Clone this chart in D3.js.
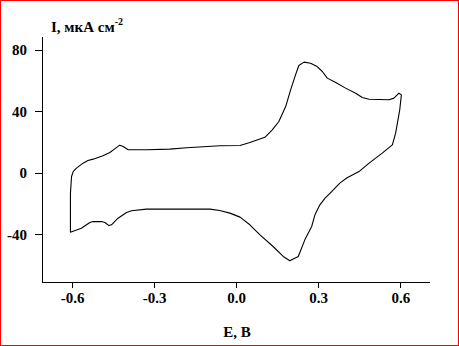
<!DOCTYPE html>
<html>
<head>
<meta charset="utf-8">
<script src="https://cdn.jsdelivr.net/npm/d3@7"></script>
<style>
  body { margin: 0; background: #fff; }
  svg { display: block; }
  text { font-family: "Liberation Serif", "Times New Roman", serif; font-weight: bold; fill: #000; }
</style>
</head>
<body>
<div id="chart"></div>
<script>
var w = 459,
    h = 346;

// cyclic voltammogram, traced clockwise starting at -0.6 V on the anodic sweep
var potential = [
  -0.596, -0.584, -0.560, -0.542, -0.523, -0.487, -0.462, -0.444, -0.426, -0.413,
  -0.395, -0.328, -0.243, -0.181, -0.060, 0.014, 0.050, 0.105, 0.132, 0.156,
  0.181, 0.199, 0.217, 0.229, 0.248, 0.272, 0.296, 0.315, 0.333, 0.364,
  0.400, 0.437, 0.461, 0.486, 0.559, 0.577, 0.595, 0.604, 0.598, 0.583,
  0.571, 0.534, 0.486, 0.449, 0.404, 0.379, 0.349, 0.325, 0.306, 0.288,
  0.276, 0.251, 0.227, 0.196, 0.172, 0.135, 0.087, 0.050, 0.014, -0.023,
  -0.060, -0.096, -0.206, -0.328, -0.383, -0.401, -0.432, -0.456, -0.465, -0.480,
  -0.492, -0.523, -0.535, -0.566, -0.606, -0.606, -0.602, -0.596
];
var current = [
  0.8, 3.1, 6.3, 8.0, 8.9, 11.1, 13.2, 15.6, 18.0, 17.1,
  15.0, 15.0, 15.4, 16.3, 17.6, 17.8, 19.7, 23.1, 28.0, 33.4,
  43.1, 54.0, 63.7, 69.8, 72.0, 71.3, 69.1, 65.9, 61.6, 58.7,
  55.1, 51.8, 49.0, 47.9, 47.5, 48.6, 51.8, 50.7, 41.0, 25.8,
  18.2, 12.8, 6.3, 0.8, -3.4, -6.7, -12.2, -16.5, -20.8, -27.3,
  -34.9, -43.6, -54.4, -57.2, -54.4, -47.9, -40.3, -33.8, -28.8, -26.2,
  -24.5, -23.6, -23.6, -23.6, -24.7, -25.8, -29.5, -33.8, -34.3, -32.3,
  -31.7, -31.7, -32.3, -36.0, -38.6, -13.2, -2.4, 0.8
];
var xTicks = [-0.6, -0.3, 0.0, 0.3, 0.6];
var yTicks = [-40, 0, 40, 80];

var svg = d3.select("#chart").append("svg")
    .attr("width", w)
    .attr("height", h);

svg.append("rect")
    .attr("x", 0.5)
    .attr("y", 0.5)
    .attr("width", w - 1)
    .attr("height", h - 1)
    .attr("fill", "#fff")
    .attr("stroke", "#ff0000");

var x = d3.scaleLinear().domain([-0.71, 0.705]).range([42, 429]);
var y = d3.scaleLinear().domain([-71, 89]).range([282, 36]);

var fmtX = function (d) { return d3.format(".1f")(d).replace("\u2212", "-"); };
var fmtY = function (d) { return String(d); };

var xAxis = svg.append("g")
    .attr("transform", "translate(0," + 282 + ")")
    .call(d3.axisBottom(x).tickValues(xTicks).tickFormat(fmtX)
        .tickSize(6).tickSizeOuter(0).tickPadding(4));

var yAxis = svg.append("g")
    .attr("transform", "translate(" + 42 + ",0)")
    .call(d3.axisLeft(y).tickValues(yTicks).tickFormat(fmtY)
        .tickSize(7).tickSizeOuter(0).tickPadding(8));

svg.selectAll(".tick text")
    .attr("font-size", 15)
    .attr("font-family", null);
svg.selectAll(".domain, .tick line")
    .attr("stroke", "#000")
    .attr("shape-rendering", "crispEdges");

var line = d3.line()
    .x(function (d, i) { return x(potential[i]); })
    .y(function (d, i) { return y(current[i]); });

svg.append("path")
    .datum(current)
    .attr("fill", "none")
    .attr("stroke", "#000")
    .attr("stroke-width", 1.1)
    .attr("stroke-linejoin", "round")
    .attr("d", line);

var yTitle = svg.append("text")
    .attr("x", 51)
    .attr("y", 32)
    .attr("font-size", 15);
yTitle.append("tspan").text("I, мкА см");
yTitle.append("tspan")
    .attr("dy", -7)
    .attr("font-size", 10)
    .text("-2");

svg.append("text")
    .attr("x", 237)
    .attr("y", 337)
    .attr("text-anchor", "middle")
    .attr("font-size", 15)
    .text("E, B");
</script>
</body>
</html>
